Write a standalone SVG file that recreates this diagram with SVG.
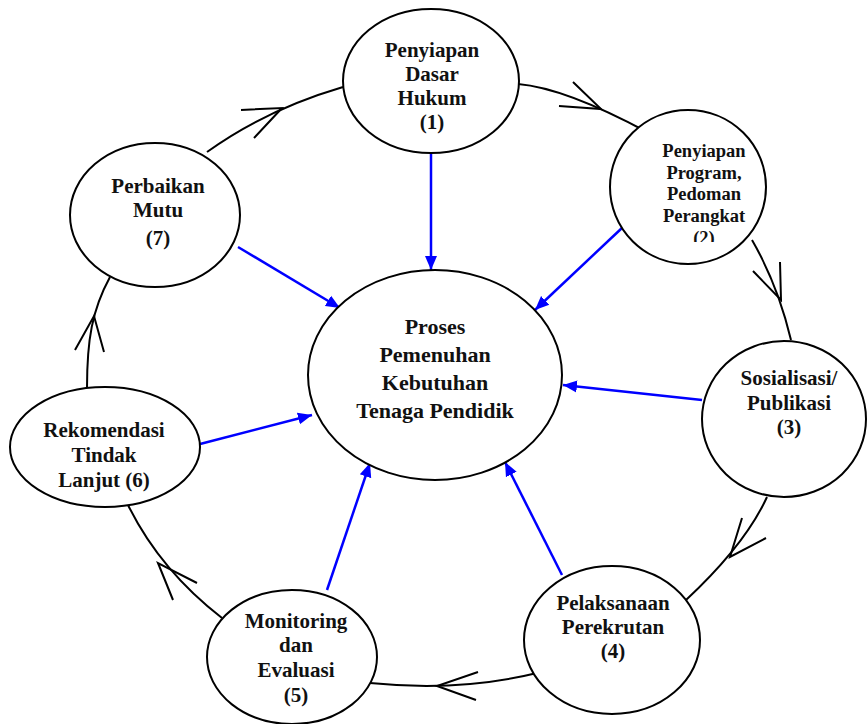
<svg xmlns="http://www.w3.org/2000/svg" width="867" height="724" viewBox="0 0 867 724">
<defs>
<style>
.n{fill:#fff;stroke:#000;stroke-width:2}
.t{font-family:"Liberation Serif","Times New Roman",serif;font-weight:bold;font-size:21px;fill:#111;text-anchor:middle}
.s{font-size:18.5px}
.c{font-size:22px}
.k{fill:none;stroke:#000;stroke-width:2}
.b{fill:none;stroke:#0000ff;stroke-width:2.5}
</style>
<marker id="ah" markerUnits="userSpaceOnUse" markerWidth="16" markerHeight="14" refX="14" refY="7" orient="auto">
<path d="M0,1 L14,7 L0,13 Z" fill="#0000ff"/>
</marker>
<clipPath id="clip2"><rect x="600" y="100" width="200" height="142"/></clipPath>
</defs>
<rect width="867" height="724" fill="#fff"/>
<g id="connectors">
<path class="k" d="M518 84 Q565 88 647 132"/>
<path class="k" d="M573 82 L601 109 L559 106"/>
<path class="k" d="M752 240 Q778 285 791 340"/>
<path class="k" d="M780 262 L781 300 L753 271"/>
<path class="k" d="M767 497 Q745 545 686 600"/>
<path class="k" d="M742 518 L730 557 L766 538"/>
<path class="k" d="M537 673 Q460 692 370 683"/>
<path class="k" d="M478 672 L437 686 L476 700"/>
<path class="k" d="M222 618 Q160 570 128 505"/>
<path class="k" d="M197 583 L158 563 L173 600"/>
<path class="k" d="M87 388 C87 340 92 310 110 277"/>
<path class="k" d="M75 350 L94 316 L104 352"/>
<path class="k" d="M207 152 Q265 110 343 87"/>
<path class="k" d="M241 110 L282 108 L254 138"/>
<path class="b" d="M431 153 L431 270" marker-end="url(#ah)"/>
<path class="b" d="M623 227 L535 310" marker-end="url(#ah)"/>
<path class="b" d="M702 400 L563 385" marker-end="url(#ah)"/>
<path class="b" d="M562 575 L505 462" marker-end="url(#ah)"/>
<path class="b" d="M327 590 L370 463" marker-end="url(#ah)"/>
<path class="b" d="M200 444 L312 415" marker-end="url(#ah)"/>
<path class="b" d="M238 247 L340 308" marker-end="url(#ah)"/>
</g>
<g id="node-center">
<ellipse class="n" cx="435" cy="375" rx="127" ry="105"/>
<text class="t c" x="435" y="334">Proses</text>
<text class="t c" x="435" y="362">Pemenuhan</text>
<text class="t c" x="435" y="390">Kebutuhan</text>
<text class="t c" x="435" y="418">Tenaga Pendidik</text>
</g>
<g id="node-1">
<ellipse class="n" cx="431" cy="81" rx="88" ry="72"/>
<text class="t" x="432" y="57">Penyiapan</text>
<text class="t" x="432" y="81">Dasar</text>
<text class="t" x="432" y="105">Hukum</text>
<text class="t" x="432" y="129">(1)</text>
</g>
<g id="node-2">
<ellipse class="n" cx="688" cy="187" rx="78" ry="77"/>
<g clip-path="url(#clip2)">
<text class="t s" x="704" y="157">Penyiapan</text>
<text class="t s" x="704" y="179">Program,</text>
<text class="t s" x="704" y="200">Pedoman</text>
<text class="t s" x="704" y="222">Perangkat</text>
<text class="t s" x="704" y="244">(2)</text>
</g>
</g>
<g id="node-3">
<ellipse class="n" cx="784" cy="419" rx="82" ry="78"/>
<text class="t" x="789" y="385">Sosialisasi/</text>
<text class="t" x="789" y="410">Publikasi</text>
<text class="t" x="789" y="434">(3)</text>
</g>
<g id="node-4">
<ellipse class="n" cx="612" cy="640" rx="88" ry="74"/>
<text class="t" x="613" y="610">Pelaksanaan</text>
<text class="t" x="613" y="634">Perekrutan</text>
<text class="t" x="613" y="658">(4)</text>
</g>
<g id="node-5">
<ellipse class="n" cx="292" cy="657" rx="85" ry="67"/>
<text class="t" x="296" y="628">Monitoring</text>
<text class="t" x="296" y="652">dan</text>
<text class="t" x="296" y="677">Evaluasi</text>
<text class="t" x="296" y="702">(5)</text>
</g>
<g id="node-6">
<ellipse class="n" cx="105" cy="447" rx="95" ry="60"/>
<text class="t" x="104" y="437">Rekomendasi</text>
<text class="t" x="104" y="462">Tindak</text>
<text class="t" x="104" y="487">Lanjut (6)</text>
</g>
<g id="node-7">
<ellipse class="n" cx="155" cy="215" rx="85" ry="72"/>
<text class="t" x="158" y="193">Perbaikan</text>
<text class="t" x="158" y="217">Mutu</text>
<text class="t" x="158" y="245">(7)</text>
</g>
</svg>
